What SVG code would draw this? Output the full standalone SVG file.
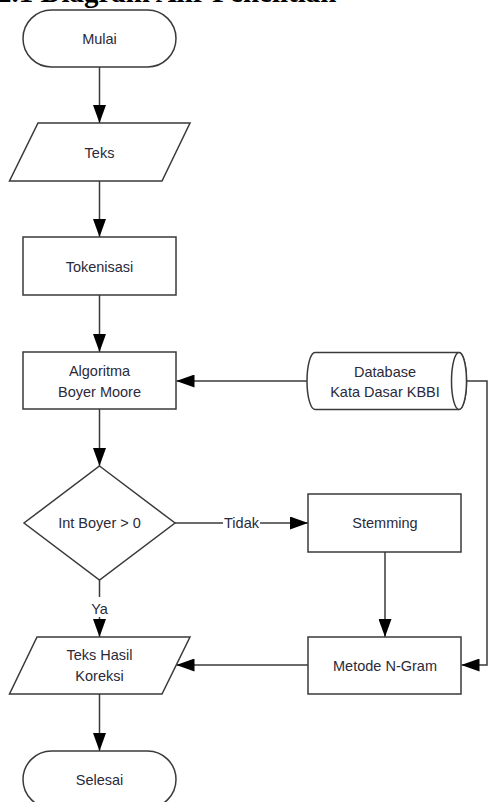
<svg xmlns="http://www.w3.org/2000/svg" width="488" height="802" viewBox="0 0 488 802">
<style>
.s{fill:#fff;stroke:#3a3a3a;stroke-width:1.5}
.t{font-family:"Liberation Sans",Arial,sans-serif;font-size:14.5px;fill:#2a2a3a;text-anchor:middle;dominant-baseline:central}
.c{fill:none;stroke:#3a3a3a;stroke-width:1.5}
.title{font-family:"Liberation Serif","Times New Roman",serif;font-weight:bold;font-size:29px;fill:#000}
</style>
<defs>
<marker id="ah" markerUnits="userSpaceOnUse" markerWidth="18" markerHeight="13" viewBox="0 0 18 13" refX="18" refY="6.5" orient="auto">
<path d="M0,0 L18,6.5 L0,13 Z" fill="#000"/>
</marker>
</defs>
<text class="title" x="-3" y="1.5">2.1 Diagram Alir Penelitian</text>
<g id="connectors">
<path class="c" d="M99.5,67 V123" marker-end="url(#ah)"/>
<path class="c" d="M99.5,181 V237" marker-end="url(#ah)"/>
<path class="c" d="M99.5,295 V352" marker-end="url(#ah)"/>
<path class="c" d="M307,381 H176.5" marker-end="url(#ah)"/>
<path class="c" d="M99.5,409 V466" marker-end="url(#ah)"/>
<path class="c" d="M175,523 H308" marker-end="url(#ah)"/>
<rect x="223" y="514" width="37" height="18" fill="#fff"/>
<text class="t" x="241.5" y="523">Tidak</text>
<path class="c" d="M385,552 V637" marker-end="url(#ah)"/>
<path class="c" d="M466.5,381 H487 V665 H461.5" marker-end="url(#ah)"/>
<path class="c" d="M308,665 H176.5" marker-end="url(#ah)"/>
<path class="c" d="M99.5,580 V597"/>
<text class="t" x="99.5" y="609">Ya</text>
<path class="c" d="M99.5,617 V637" marker-end="url(#ah)"/>
<path class="c" d="M99.5,694 V751" marker-end="url(#ah)"/>
</g>
<g id="mulai">
<rect class="s" x="23" y="10" width="153" height="57" rx="28.5"/>
<text class="t" x="99.5" y="38.5">Mulai</text>
</g>
<g id="teks">
<path class="s" d="M38,123 H190 L162,181 H9.5 Z"/>
<text class="t" x="99.5" y="152.5">Teks</text>
</g>
<g id="tokenisasi">
<rect class="s" x="23" y="237" width="153" height="58"/>
<text class="t" x="99.5" y="266.5">Tokenisasi</text>
</g>
<g id="boyer">
<rect class="s" x="23" y="352" width="153" height="57"/>
<text class="t" x="99.5" y="371">Algoritma</text>
<text class="t" x="99.5" y="391.5">Boyer Moore</text>
</g>
<g id="database">
<path class="s" d="M315,352.5 H459 A7.5,28.5 0 0 1 459,409.5 H315 A8,28.5 0 0 1 315,352.5 Z"/>
<ellipse class="s" cx="459" cy="381" rx="7.5" ry="28.5"/>
<text class="t" x="385" y="371.5">Database</text>
<text class="t" x="385" y="391.5">Kata Dasar KBBI</text>
</g>
<g id="decision">
<path class="s" d="M99.5,466 L175,523 L99.5,580 L24,523 Z"/>
<text class="t" x="99.5" y="523">Int Boyer &gt; 0</text>
</g>
<g id="stemming">
<rect class="s" x="308" y="494" width="153" height="58"/>
<text class="t" x="385" y="523">Stemming</text>
</g>
<g id="ngram">
<rect class="s" x="308" y="637" width="153" height="57"/>
<text class="t" x="385" y="665.5">Metode N-Gram</text>
</g>
<g id="hasil">
<path class="s" d="M37,637 H190 L162,694 H9.5 Z"/>
<text class="t" x="99.5" y="655">Teks Hasil</text>
<text class="t" x="99.5" y="676">Koreksi</text>
</g>
<g id="selesai">
<rect class="s" x="23" y="751" width="153" height="57" rx="28.5"/>
<text class="t" x="99.5" y="779.5">Selesai</text>
</g>
</svg>
